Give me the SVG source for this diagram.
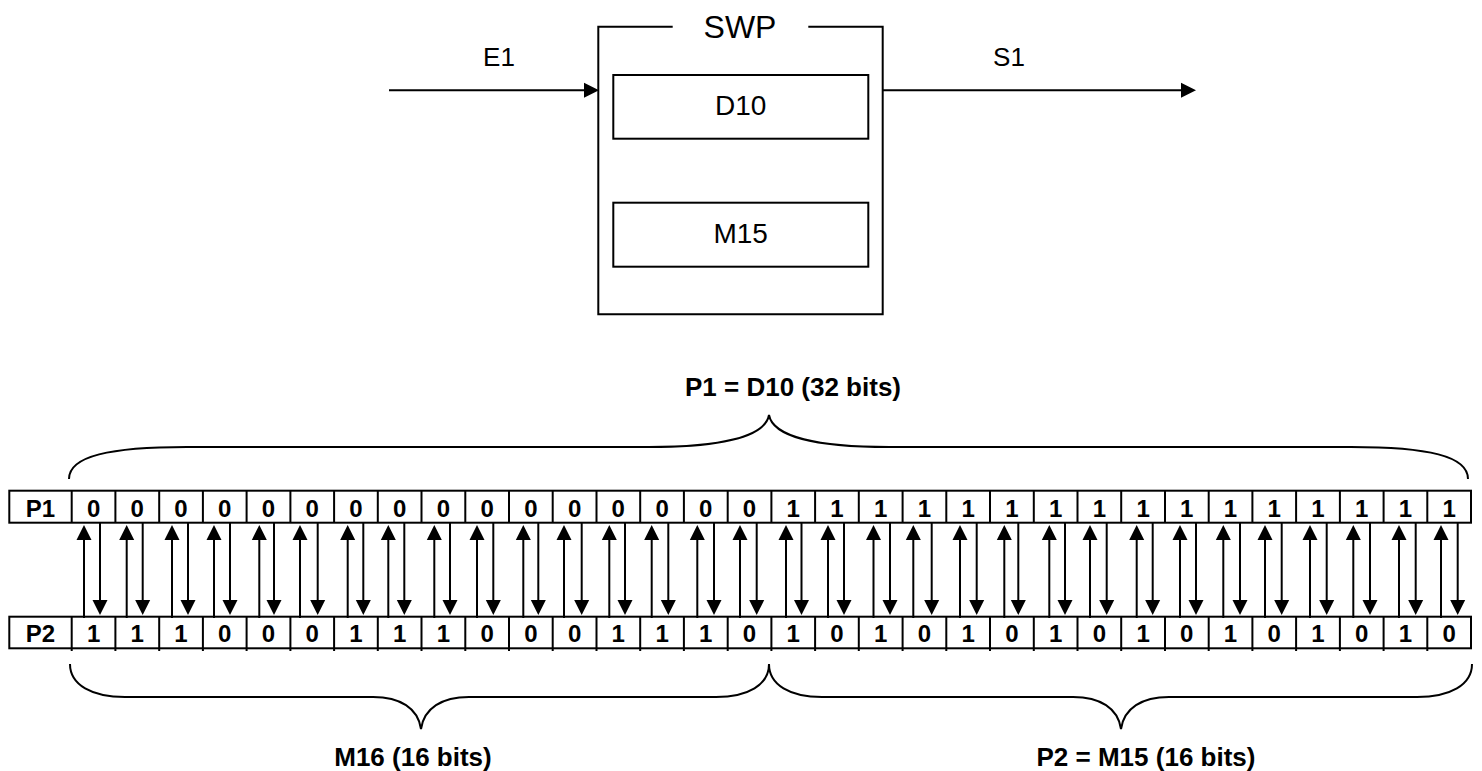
<svg xmlns="http://www.w3.org/2000/svg" width="1482" height="771" viewBox="0 0 1482 771">
<style>
.ln{fill:none;stroke:#000;stroke-width:2}
.box{fill:#fff;stroke:#000;stroke-width:2}
.t{font-family:"Liberation Sans",Arial,sans-serif;text-anchor:middle;fill:#000}
.b{font-family:"Liberation Sans",Arial,sans-serif;font-weight:bold;font-size:24px;text-anchor:middle;fill:#000}
.lb{font-family:"Liberation Sans",Arial,sans-serif;font-weight:bold;font-size:26px;text-anchor:middle;fill:#000}
.ar{fill:none;stroke:#000;stroke-width:2;marker-end:url(#ah)}
</style>
<defs>
<marker id="ah" markerUnits="userSpaceOnUse" markerWidth="16" markerHeight="16" viewBox="0 -8 16 16" refX="0" refY="0" orient="auto">
<path d="M0,-7.5 L15,0 L0,7.5 Z" fill="#000"/>
</marker>
</defs>
<rect width="1482" height="771" fill="#fff"/>

<g id="swp">
<path class="ln" d="M672.7,26.7 H598.3 V314.3 H882.7 V26.7 H808.3"/>
<text class="t" x="740" y="38" font-size="32">SWP</text>
</g>
<g id="d10">
<rect class="box" x="613.3" y="75" width="255" height="63.7"/>
<text class="t" x="740.7" y="115" font-size="28">D10</text>
</g>
<g id="m15">
<rect class="box" x="613.3" y="202.7" width="255" height="64"/>
<text class="t" x="740.7" y="243.3" font-size="28">M15</text>
</g>
<g id="e1"><text class="t" x="499" y="66" font-size="26">E1</text></g>
<g id="s1"><text class="t" x="1009" y="66" font-size="26">S1</text></g>

<g id="p1row">
<rect class="box" x="9.3" y="490.7" width="1461.7" height="32"/>
<path class="ln" d="M71.7,490.7V522.7 M115.4,490.7V522.7 M159.2,490.7V522.7 M202.9,490.7V522.7 M246.6,490.7V522.7 M290.4,490.7V522.7 M334.1,490.7V522.7 M377.8,490.7V522.7 M421.5,490.7V522.7 M465.3,490.7V522.7 M509,490.7V522.7 M552.7,490.7V522.7 M596.5,490.7V522.7 M640.2,490.7V522.7 M683.9,490.7V522.7 M727.7,490.7V522.7 M771.4,490.7V522.7 M815.1,490.7V522.7 M858.8,490.7V522.7 M902.6,490.7V522.7 M946.3,490.7V522.7 M990,490.7V522.7 M1033.8,490.7V522.7 M1077.5,490.7V522.7 M1121.2,490.7V522.7 M1165,490.7V522.7 M1208.7,490.7V522.7 M1252.4,490.7V522.7 M1296.1,490.7V522.7 M1339.9,490.7V522.7 M1383.6,490.7V522.7 M1427.3,490.7V522.7"/>
<text class="b" y="517"><tspan x="40.5">P1</tspan><tspan x="93.6">0</tspan><tspan x="137.3">0</tspan><tspan x="181">0</tspan><tspan x="224.8">0</tspan><tspan x="268.5">0</tspan><tspan x="312.2">0</tspan><tspan x="356">0</tspan><tspan x="399.7">0</tspan><tspan x="443.4">0</tspan><tspan x="487.1">0</tspan><tspan x="530.9">0</tspan><tspan x="574.6">0</tspan><tspan x="618.3">0</tspan><tspan x="662.1">0</tspan><tspan x="705.8">0</tspan><tspan x="749.5">0</tspan><tspan x="793.2">1</tspan><tspan x="837">1</tspan><tspan x="880.7">1</tspan><tspan x="924.4">1</tspan><tspan x="968.2">1</tspan><tspan x="1011.9">1</tspan><tspan x="1055.6">1</tspan><tspan x="1099.4">1</tspan><tspan x="1143.1">1</tspan><tspan x="1186.8">1</tspan><tspan x="1230.5">1</tspan><tspan x="1274.3">1</tspan><tspan x="1318">1</tspan><tspan x="1361.7">1</tspan><tspan x="1405.5">1</tspan><tspan x="1449.2">1</tspan></text>
</g>

<g id="p2row">
<rect class="box" x="9.3" y="616.7" width="1461.7" height="31.6"/>
<path class="ln" d="M71.7,616.7V651 M115.4,616.7V651 M159.2,616.7V651 M202.9,616.7V651 M246.6,616.7V651 M290.4,616.7V651 M334.1,616.7V651 M377.8,616.7V651 M421.5,616.7V651 M465.3,616.7V651 M509,616.7V651 M552.7,616.7V651 M596.5,616.7V651 M640.2,616.7V651 M683.9,616.7V651 M727.7,616.7V651 M771.4,616.7V651 M815.1,616.7V651 M858.8,616.7V651 M902.6,616.7V651 M946.3,616.7V651 M990,616.7V651 M1033.8,616.7V651 M1077.5,616.7V651 M1121.2,616.7V651 M1165,616.7V651 M1208.7,616.7V651 M1252.4,616.7V651 M1296.1,616.7V651 M1339.9,616.7V651 M1383.6,616.7V651 M1427.3,616.7V651"/>
<text class="b" y="642"><tspan x="40.5">P2</tspan><tspan x="93.6">1</tspan><tspan x="137.3">1</tspan><tspan x="181">1</tspan><tspan x="224.8">0</tspan><tspan x="268.5">0</tspan><tspan x="312.2">0</tspan><tspan x="356">1</tspan><tspan x="399.7">1</tspan><tspan x="443.4">1</tspan><tspan x="487.1">0</tspan><tspan x="530.9">0</tspan><tspan x="574.6">0</tspan><tspan x="618.3">1</tspan><tspan x="662.1">1</tspan><tspan x="705.8">1</tspan><tspan x="749.5">0</tspan><tspan x="793.2">1</tspan><tspan x="837">0</tspan><tspan x="880.7">1</tspan><tspan x="924.4">0</tspan><tspan x="968.2">1</tspan><tspan x="1011.9">0</tspan><tspan x="1055.6">1</tspan><tspan x="1099.4">0</tspan><tspan x="1143.1">1</tspan><tspan x="1186.8">0</tspan><tspan x="1230.5">1</tspan><tspan x="1274.3">0</tspan><tspan x="1318">1</tspan><tspan x="1361.7">0</tspan><tspan x="1405.5">1</tspan><tspan x="1449.2">0</tspan></text>
</g>

<g id="brace-p1">
<path class="ln" d="M69,479 C69,456 110,447 187,447 L649,447 C720,447 765,437 769,415 C773,437 818,447 889,447 L1351,447 C1428,447 1468,456 1468,479"/>
<text class="lb" x="793" y="396">P1 = D10 (32 bits)</text>
</g>
<g id="brace-m16">
<path class="ln" d="M70,664 C70,685 92,697 125,697 L373,697 C400,697 418,708 421,729 C424,708 442,697 469,697 L716,697 C748,697 769,685 769,664"/>
<text class="lb" x="413" y="766">M16 (16 bits)</text>
</g>
<g id="brace-m15">
<path class="ln" d="M769,664 C769,685 790,697 822,697 L1073,697 C1100,697 1118,708 1121,729 C1124,708 1142,697 1169,697 L1417,697 C1450,697 1472,685 1472,664"/>
<text class="lb" x="1146" y="766">P2 = M15 (16 bits)</text>
</g>

<g id="connectors">
<line class="ar" x1="389" y1="90.3" x2="584" y2="90.3"/>
<line class="ar" x1="883" y1="90.3" x2="1181" y2="90.3"/>
<path class="ar" d="M84,618V540"/><path class="ar" d="M100,523V600"/>
<path class="ar" d="M126.7,618V540"/><path class="ar" d="M142.7,523V600"/>
<path class="ar" d="M172,618V540"/><path class="ar" d="M188,523V600"/>
<path class="ar" d="M214,618V540"/><path class="ar" d="M230,523V600"/>
<path class="ar" d="M259.3,618V540"/><path class="ar" d="M274,523V600"/>
<path class="ar" d="M300,618V540"/><path class="ar" d="M317.7,523V600"/>
<path class="ar" d="M347.7,618V540"/><path class="ar" d="M363.3,523V600"/>
<path class="ar" d="M388.3,618V540"/><path class="ar" d="M404.3,523V600"/>
<path class="ar" d="M434.3,618V540"/><path class="ar" d="M450,523V600"/>
<path class="ar" d="M477,618V540"/><path class="ar" d="M493.3,523V600"/>
<path class="ar" d="M523.3,618V540"/><path class="ar" d="M538.3,523V600"/>
<path class="ar" d="M564,618V540"/><path class="ar" d="M581.7,523V600"/>
<path class="ar" d="M609.3,618V540"/><path class="ar" d="M625,523V600"/>
<path class="ar" d="M651.7,618V540"/><path class="ar" d="M668.3,523V600"/>
<path class="ar" d="M697.3,618V540"/><path class="ar" d="M714,523V600"/>
<path class="ar" d="M740,618V540"/><path class="ar" d="M756.7,523V600"/>
<path class="ar" d="M786,618V540"/><path class="ar" d="M801.5,523V600"/>
<path class="ar" d="M828,618V540"/><path class="ar" d="M844,523V600"/>
<path class="ar" d="M873.5,618V540"/><path class="ar" d="M890,523V600"/>
<path class="ar" d="M913.3,618V540"/><path class="ar" d="M931.7,523V600"/>
<path class="ar" d="M960,618V540"/><path class="ar" d="M976.7,523V600"/>
<path class="ar" d="M1004.3,618V540"/><path class="ar" d="M1018.3,523V600"/>
<path class="ar" d="M1049.3,618V540"/><path class="ar" d="M1065,523V600"/>
<path class="ar" d="M1090,618V540"/><path class="ar" d="M1106.7,523V600"/>
<path class="ar" d="M1136.7,618V540"/><path class="ar" d="M1152.7,523V600"/>
<path class="ar" d="M1180,618V540"/><path class="ar" d="M1196,523V600"/>
<path class="ar" d="M1223.3,618V540"/><path class="ar" d="M1240,523V600"/>
<path class="ar" d="M1265,618V540"/><path class="ar" d="M1281.7,523V600"/>
<path class="ar" d="M1310,618V540"/><path class="ar" d="M1326.7,523V600"/>
<path class="ar" d="M1353.3,618V540"/><path class="ar" d="M1370,523V600"/>
<path class="ar" d="M1399,618V540"/><path class="ar" d="M1415.7,523V600"/>
<path class="ar" d="M1441,618V540"/><path class="ar" d="M1457.7,523V600"/>
</g>
</svg>
